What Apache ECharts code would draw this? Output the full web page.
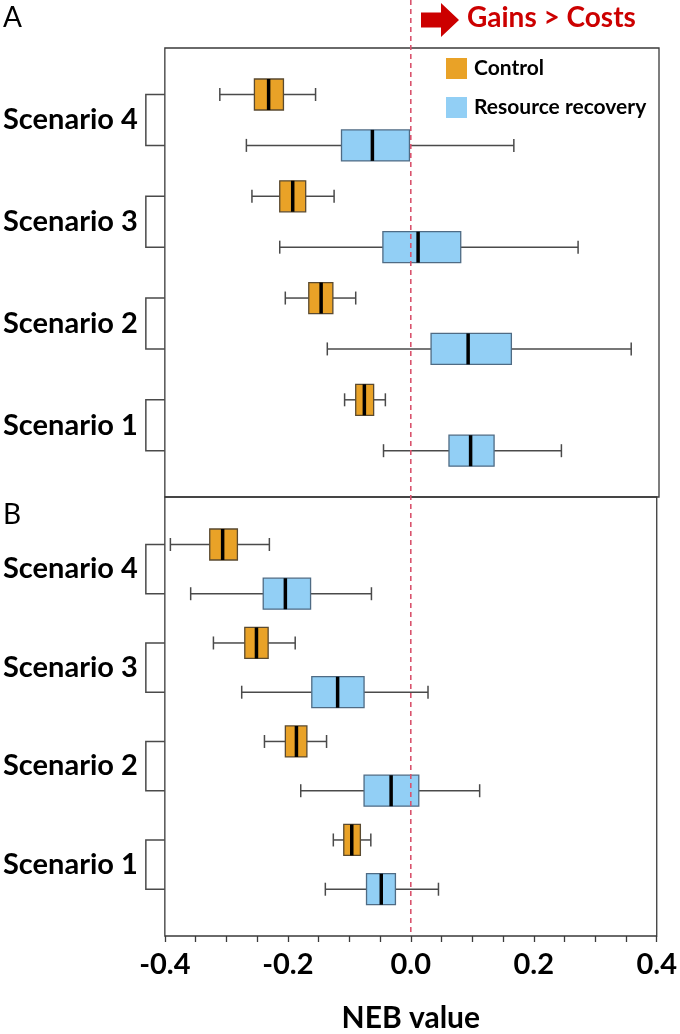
<!DOCTYPE html>
<html>
<head>
<meta charset="utf-8">
<script src="https://cdn.jsdelivr.net/npm/echarts@6/dist/echarts.min.js"></script>
<style>html,body{margin:0;padding:0;background:#fff}#c{width:680px;height:1034px}</style>
</head>
<body>
<div id="c"></div>
<script>
// ---- data ----
const scenarios = ['Scenario 1', 'Scenario 2', 'Scenario 3', 'Scenario 4'];
const seriesNames = ['Control', 'Resource recovery'];
const xTickLabels = [-0.4, -0.2, 0.0, 0.2, 0.4];
// each row: [min, Q1, median, Q3, max] for Scenario 1..4
const panelA_control = [
  [-0.109, -0.091, -0.077, -0.062, -0.043],
  [-0.205, -0.167, -0.147, -0.128, -0.091],
  [-0.259, -0.214, -0.193, -0.172, -0.126],
  [-0.311, -0.255, -0.232, -0.208, -0.156]
];
const panelA_recovery = [
  [-0.046, 0.060, 0.095, 0.133, 0.242],
  [-0.137, 0.031, 0.091, 0.161, 0.355],
  [-0.214, -0.047, 0.010, 0.079, 0.269],
  [-0.268, -0.114, -0.064, -0.004, 0.165]
];
const panelB_control = [
  [-0.126, -0.109, -0.096, -0.082, -0.065],
  [-0.238, -0.204, -0.186, -0.169, -0.137],
  [-0.321, -0.270, -0.251, -0.232, -0.188],
  [-0.391, -0.327, -0.306, -0.282, -0.230]
];
const panelB_recovery = [
  [-0.139, -0.072, -0.048, -0.025, 0.045],
  [-0.179, -0.076, -0.032, 0.013, 0.112],
  [-0.275, -0.161, -0.119, -0.076, 0.028],
  [-0.358, -0.240, -0.204, -0.163, -0.064]
];

// ---- styles ----
const FONT = 'Lato';
const ORANGE = '#E9A227', ORANGE_EDGE = '#5a4a30';
const BLUE = '#92CFF5', BLUE_EDGE = '#4f6b84';
const LINE = '#4a4a4a';
const ROW_OFFSET = 0.25;

function rows(arr, offset) {
  return arr.map((v, i) => [i + 1 + offset].concat(v));
}

function boxRender(fill, edge) {
  return function (params, api) {
    const y = api.value(0);
    const pts = [1, 2, 3, 4, 5].map(i => api.coord([api.value(i), y]));
    const xs = pts.map(p => p[0]);
    const cy = pts[0][1];
    const h = 31, cap = 13;
    return {
      type: 'group',
      children: [
        {type: 'line', shape: {x1: xs[0], y1: cy, x2: xs[1], y2: cy}, style: {stroke: LINE, lineWidth: 1.5}},
        {type: 'line', shape: {x1: xs[3], y1: cy, x2: xs[4], y2: cy}, style: {stroke: LINE, lineWidth: 1.5}},
        {type: 'line', shape: {x1: xs[0], y1: cy - cap / 2, x2: xs[0], y2: cy + cap / 2}, style: {stroke: LINE, lineWidth: 1.5}},
        {type: 'line', shape: {x1: xs[4], y1: cy - cap / 2, x2: xs[4], y2: cy + cap / 2}, style: {stroke: LINE, lineWidth: 1.5}},
        {type: 'rect', shape: {x: xs[1], y: cy - h / 2, width: xs[3] - xs[1], height: h}, style: {fill: fill, stroke: edge, lineWidth: 1.3}},
        {type: 'line', shape: {x1: xs[2], y1: cy - h / 2, x2: xs[2], y2: cy + h / 2}, style: {stroke: '#000', lineWidth: 3.5}}
      ]
    };
  };
}

function bracketRender(params, api) {
  const mid = api.value(0);
  const yTop = api.coord([0, mid + ROW_OFFSET])[1];
  const yBot = api.coord([0, mid - ROW_OFFSET])[1];
  const x0 = params.coordSys.x;
  const x1 = x0 - 19;
  return {
    type: 'polyline',
    shape: {points: [[x0, yTop], [x1, yTop], [x1, yBot], [x0, yBot]]},
    style: {stroke: LINE, lineWidth: 1.5, fill: null}
  };
}

function dashRender(params, api) {
  const x = api.coord([api.value(0), 1])[0];
  const yb = params.coordSys.y + params.coordSys.height;
  return {
    type: 'line',
    shape: {x1: x, y1: 0, x2: x, y2: yb},
    style: {stroke: '#d9536d', lineWidth: 1.6, lineDash: [5, 4]}
  };
}

const yLabel = {
  customValues: [1, 2, 3, 4],
  formatter: v => scenarios[Math.round(v) - 1],
  margin: 27,
  color: '#000',
  fontFamily: FONT,
  fontWeight: 'bold',
  fontSize: 29
};

const grids = [
  {left: 163, right: 21, top: 48, height: 449, show: true, borderColor: '#3a3a3a', borderWidth: 1.3, backgroundColor: 'transparent'},
  {left: 163, right: 21, top: 497, height: 453, show: true, borderColor: '#3a3a3a', borderWidth: 1.3, backgroundColor: 'transparent'}
];

const option = {
  animation: false,
  backgroundColor: '#fff',
  grid: grids,
  legend: {
    data: seriesNames,
    orient: 'vertical',
    left: 446, top: 58,
    itemWidth: 21, itemHeight: 21, itemGap: 18,
    icon: 'rect',
    padding: 0,
    itemStyle: {borderWidth: 0},
    textStyle: {fontFamily: FONT, fontWeight: 'bold', fontSize: 21, color: '#000', padding: [0, 0, 0, 2]}
  },
  xAxis: [
    {type: 'value', gridIndex: 0, min: -0.4, max: 0.4, interval: 0.05,
     axisLine: {show: false}, axisTick: {show: false}, axisLabel: {show: false}, splitLine: {show: false}},
    {type: 'value', gridIndex: 1, min: -0.4, max: 0.4, interval: 0.05,
     axisLine: {show: false},
     axisTick: {show: true, inside: false, length: 6, lineStyle: {color: '#3a3a3a', width: 1.3}},
     axisLabel: {customValues: xTickLabels, formatter: v => v.toFixed(1), margin: 14, color: '#000',
                 fontFamily: FONT, fontWeight: 'bold', fontSize: 29},
     splitLine: {show: false},
     name: 'NEB value', nameLocation: 'middle', nameGap: 67,
     nameTextStyle: {fontFamily: FONT, fontWeight: 'bold', fontSize: 30, color: '#000'}}
  ],
  yAxis: [
    {type: 'value', gridIndex: 0, min: 0.295, max: 4.707,
     axisLine: {show: false}, axisTick: {show: false}, splitLine: {show: false}, axisLabel: yLabel},
    {type: 'value', gridIndex: 1, min: 0.275, max: 4.732,
     axisLine: {show: false}, axisTick: {show: false}, splitLine: {show: false}, axisLabel: yLabel}
  ],
  series: [
    {type: 'custom', name: 'Control', xAxisIndex: 0, yAxisIndex: 0, renderItem: boxRender(ORANGE, ORANGE_EDGE),
     itemStyle: {color: ORANGE}, encode: {x: [1, 2, 3, 4, 5], y: 0}, data: rows(panelA_control, ROW_OFFSET), z: 3},
    {type: 'custom', name: 'Resource recovery', xAxisIndex: 0, yAxisIndex: 0, renderItem: boxRender(BLUE, BLUE_EDGE),
     itemStyle: {color: BLUE}, encode: {x: [1, 2, 3, 4, 5], y: 0}, data: rows(panelA_recovery, -ROW_OFFSET), z: 3},
    {type: 'custom', name: 'Control', xAxisIndex: 1, yAxisIndex: 1, renderItem: boxRender(ORANGE, ORANGE_EDGE),
     itemStyle: {color: ORANGE}, encode: {x: [1, 2, 3, 4, 5], y: 0}, data: rows(panelB_control, ROW_OFFSET), z: 3},
    {type: 'custom', name: 'Resource recovery', xAxisIndex: 1, yAxisIndex: 1, renderItem: boxRender(BLUE, BLUE_EDGE),
     itemStyle: {color: BLUE}, encode: {x: [1, 2, 3, 4, 5], y: 0}, data: rows(panelB_recovery, -ROW_OFFSET), z: 3},
    {type: 'custom', name: 'bracketA', xAxisIndex: 0, yAxisIndex: 0, renderItem: bracketRender, clip: false,
     dimensions: ['mid'], encode: {y: 0}, data: scenarios.map((s, i) => [i + 1]), silent: true},
    {type: 'custom', name: 'bracketB', xAxisIndex: 1, yAxisIndex: 1, renderItem: bracketRender, clip: false,
     dimensions: ['mid'], encode: {y: 0}, data: scenarios.map((s, i) => [i + 1]), silent: true},
    {type: 'custom', name: 'breakEven', xAxisIndex: 1, yAxisIndex: 1, renderItem: dashRender, clip: false,
     dimensions: ['neb'], encode: {x: 0}, data: [[0]], z: 6, silent: true}
  ],
  graphic: [
    {type: 'text', left: 3, top: 4, style: {text: 'A', font: '28px ' + FONT, fill: '#000'}},
    {type: 'text', left: 3, top: 501, style: {text: 'B', font: '28px ' + FONT, fill: '#000'}},
    {type: 'polygon', shape: {points: [[421, 12.5], [441, 12.5], [441, 3], [459, 20], [441, 37], [441, 27.5], [421, 27.5]]},
     style: {fill: '#cc0000'}},
    {type: 'text', left: 467, top: 4, style: {text: 'Gains > Costs', font: 'bold 28px ' + FONT, fill: '#cc0000'}}
  ]
};

const chart = echarts.init(document.getElementById('c'), null, {renderer: 'canvas'});
chart.setOption(option);
</script>
</body>
</html>
